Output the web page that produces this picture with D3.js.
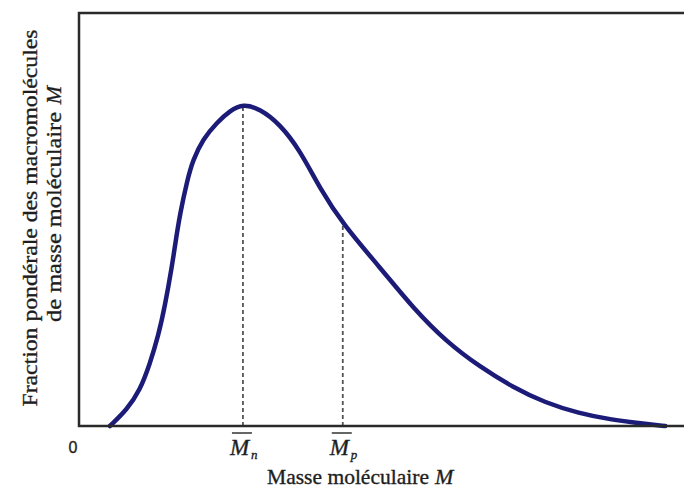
<!DOCTYPE html>
<html>
<head>
<meta charset="utf-8">
<script src="https://cdn.jsdelivr.net/npm/d3@7"></script>
<style>
  body { margin: 0; background: #fff; }
  text { font-family: "Liberation Serif", "Times New Roman", serif; fill: #1e1e1e; stroke: #1e1e1e; stroke-width: 0.35px; }
</style>
</head>
<body>
<div id="chart_div"></div>
<script>

// masse moléculaire (unités arbitraires, 0..100)
var masse = [5.1, 7.9, 10.1, 11.7, 13.1, 14.2, 15.4, 15.9, 16.7, 17.9, 18.8, 20.5, 22.8, 25.0,
    27.1, 29.9, 33.2, 36.5, 39.8, 43.6, 49.8, 55.2, 60.8, 66.3, 71.7, 77.1, 82.6, 88.0, 93.6, 96.9];
// fraction pondérale (unités arbitraires, 0..100)
var fraction = [0, 3.9, 8.7, 15.0, 21.8, 29.0, 39.0, 44.0, 51.5, 59.5, 64.3, 69.5, 73.5, 76.4,
    78.0, 76.8, 73.1, 66.8, 57.6, 48.9, 38.3, 28.6, 20.3, 14.3, 9.4, 5.6, 3.1, 1.5, 0.5, 0];

var moyennes = [
    {name: "n", value: 27.1},
    {name: "p", value: 43.6}
];

var width = 684, height = 489;
var margin = {left: 79, top: 13, right: 0, bottom: 63};

var svg = d3.select("#chart_div").append("svg")
    .attr("width", width)
    .attr("height", height);

var x = d3.scaleLinear()
    .domain([0, 100])
    .range([margin.left, width - margin.right]);

var y = d3.scaleLinear()
    .domain([0, 100])
    .range([height - margin.bottom, margin.top]);

var points = masse.map(function (m, i) {
    return [m, fraction[i]];
});

function valueAt(m) {
    var i = points.findIndex(function (d) { return Math.abs(d[0] - m) < 1e-6; });
    if (i <= 0 || i >= points.length - 1) return 0;
    // the B-spline passes through the weighted mean of the neighbours
    return (points[i - 1][1] + 4 * points[i][1] + points[i + 1][1]) / 6;
}

// dashed lines for the averages
svg.selectAll(".moy")
    .data(moyennes)
    .enter().append("line")
    .attr("class", "moy")
    .attr("x1", function (d) { return x(d.value); })
    .attr("x2", function (d) { return x(d.value); })
    .attr("y1", y(0))
    .attr("y2", function (d) { return y(valueAt(d.value)); })
    .attr("stroke", "#555")
    .attr("stroke-width", 1.8)
    .attr("stroke-dasharray", "4,3");

// curve
var line = d3.line()
    .x(function (d) { return x(d[0]); })
    .y(function (d) { return y(d[1]); })
    .curve(d3.curveBasis);

svg.append("path")
    .datum(points)
    .attr("d", line)
    .attr("fill", "none")
    .attr("stroke", "#1c1c78")
    .attr("stroke-width", 4.5)
    .attr("stroke-linecap", "round");

// frame: left, bottom, top (open on the right)
svg.append("path")
    .attr("d", "M" + x.range()[1] + "," + y(100) + "H" + x(0) + "V" + y(0) + "H" + x.range()[1])
    .attr("fill", "none")
    .attr("stroke", "#2a2a2a")
    .attr("stroke-width", 2.5);

// "0" label
svg.append("text")
    .attr("x", x(0) - 6)
    .attr("y", y(0) + 27)
    .attr("text-anchor", "middle")
    .style("font-family", "'Liberation Sans', Arial, sans-serif")
    .style("font-size", "16px")
    .text("0");

// average labels: M with overbar and subscript
var lab = svg.selectAll(".lab")
    .data(moyennes)
    .enter().append("g")
    .attr("class", "lab")
    .attr("transform", function (d) {
        return "translate(" + x(d.value) + "," + (y(0) + 29) + ")";
    });

lab.append("text")
    .attr("x", -13)
    .style("font-size", "23px")
    .style("font-style", "italic")
    .text("M");

lab.append("line")
    .attr("x1", -11)
    .attr("x2", 9)
    .attr("y1", -22)
    .attr("y2", -22)
    .attr("stroke", "#333")
    .attr("stroke-width", 1.5);

lab.append("text")
    .attr("x", 8)
    .attr("y", 4)
    .style("font-size", "13px")
    .style("font-style", "italic")
    .text(function (d) { return d.name; });

// x axis title
svg.append("text")
    .attr("x", 267)
    .attr("y", 484)
    .attr("textLength", 162)
    .attr("lengthAdjust", "spacingAndGlyphs")
    .style("font-size", "22px")
    .text("Masse moléculaire");

svg.append("text")
    .attr("x", 435)
    .attr("y", 484)
    .style("font-size", "22px")
    .style("font-style", "italic")
    .text("M");

// y axis title, two lines
svg.append("text")
    .attr("transform", "translate(37,218) rotate(-90)")
    .attr("text-anchor", "middle")
    .attr("textLength", 377)
    .attr("lengthAdjust", "spacingAndGlyphs")
    .style("font-size", "22px")
    .text("Fraction pondérale des macromolécules");

svg.append("text")
    .attr("transform", "translate(61,217) rotate(-90)")
    .attr("text-anchor", "middle")
    .attr("textLength", 210)
    .attr("lengthAdjust", "spacingAndGlyphs")
    .style("font-size", "22px")
    .text("de masse moléculaire");

svg.append("text")
    .attr("transform", "translate(61,95) rotate(-90)")
    .attr("text-anchor", "middle")
    .style("font-size", "22px")
    .style("font-style", "italic")
    .text("M");

</script>
</body>
</html>
